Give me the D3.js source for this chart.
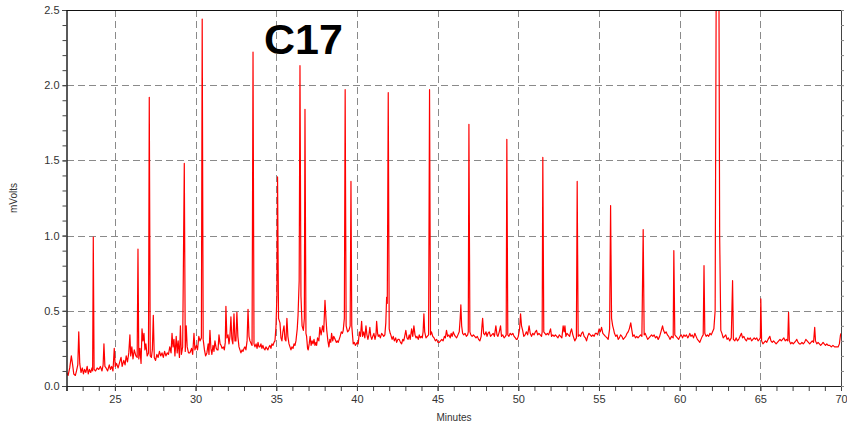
<!DOCTYPE html>
<html>
<head>
<meta charset="utf-8">
<script src="https://cdn.jsdelivr.net/npm/d3@7"></script>
<style>
  html, body { margin: 0; padding: 0; background: #fff; }
  svg { display: block; font-family: "Liberation Sans", Arial, sans-serif; }
</style>
</head>
<body>
<svg id="chart" width="847" height="425"></svg>
<script>
// ---- data ----
const xTicks = [25, 30, 35, 40, 45, 50, 55, 60, 65, 70];
const yTicks = [0, 0.5, 1.0, 1.5, 2.0, 2.5];
const xLabel = 'Minutes';
const yLabel = 'mVolts';
const peakLabel = 'C17';

// [minutes, mVolts]
const trace = [
  [22.0,0.09],[22.1,0.07],[22.2,0.12],[22.3,0.20],[22.38,0.14],[22.45,0.08],[22.55,0.07],[22.62,0.10],
  [22.7,0.14],[22.76,0.36],[22.82,0.15],[22.9,0.09],[22.98,0.12],[23.05,0.08],[23.12,0.11],[23.2,0.09],
  [23.28,0.13],[23.35,0.08],[23.42,0.11],[23.5,0.09],[23.58,0.12],[23.62,0.10],[23.66,0.99],[23.71,0.11],
  [23.8,0.10],[23.9,0.12],[24.0,0.11],[24.1,0.13],[24.2,0.10],[24.27,0.14],[24.32,0.28],[24.38,0.13],
  [24.45,0.12],[24.55,0.10],[24.65,0.14],[24.72,0.11],[24.8,0.13],[24.88,0.10],[24.96,0.25],[25.02,0.13],
  [25.1,0.15],[25.2,0.12],[25.3,0.16],[25.38,0.19],[25.45,0.13],[25.55,0.17],[25.63,0.14],[25.7,0.20],
  [25.78,0.16],[25.86,0.22],[25.93,0.34],[25.98,0.20],[26.05,0.26],[26.12,0.18],[26.2,0.24],[26.3,0.20],
  [26.38,0.19],[26.43,0.91],[26.48,0.18],[26.55,0.25],[26.62,0.15],[26.68,0.38],[26.74,0.30],[26.8,0.35],
  [26.86,0.24],[26.92,0.28],[27.0,0.20],[27.08,0.22],[27.13,1.92],[27.19,0.20],[27.26,0.19],[27.32,0.24],
  [27.38,0.47],[27.44,0.19],[27.52,0.17],[27.6,0.21],[27.68,0.19],[27.76,0.23],[27.84,0.20],[27.92,0.22],
  [28.0,0.19],[28.08,0.23],[28.16,0.20],[28.24,0.22],[28.32,0.21],[28.4,0.26],[28.48,0.22],[28.54,0.35],
  [28.6,0.26],[28.66,0.31],[28.72,0.20],[28.8,0.33],[28.86,0.22],[28.92,0.30],[29.0,0.19],[29.06,0.40],
  [29.12,0.21],[29.2,0.26],[29.3,1.48],[29.36,0.23],[29.42,0.40],[29.48,0.26],[29.56,0.22],[29.65,0.22],
  [29.75,0.25],[29.82,0.21],[29.9,0.35],[29.96,0.24],[30.05,0.27],[30.12,0.24],[30.2,0.33],[30.27,0.30],
  [30.36,0.32],[30.41,2.44],[30.47,0.31],[30.55,0.24],[30.62,0.20],[30.7,0.22],[30.78,0.28],[30.83,0.21],
  [30.89,0.37],[30.95,0.25],[31.01,0.21],[31.08,0.27],[31.14,0.23],[31.2,0.30],[31.28,0.25],[31.34,0.24],
  [31.39,0.24],[31.45,0.34],[31.52,0.28],[31.58,0.27],[31.64,0.25],[31.72,0.26],[31.78,0.24],[31.84,0.29],
  [31.88,0.53],[31.94,0.32],[32.01,0.34],[32.07,0.28],[32.13,0.33],[32.19,0.46],[32.25,0.31],[32.31,0.28],
  [32.38,0.48],[32.44,0.30],[32.5,0.30],[32.56,0.49],[32.62,0.33],[32.69,0.26],[32.75,0.24],[32.81,0.22],
  [32.88,0.24],[32.94,0.23],[33.0,0.25],[33.06,0.26],[33.12,0.24],[33.19,0.30],[33.25,0.51],[33.31,0.33],
  [33.37,0.30],[33.45,0.28],[33.5,0.27],[33.56,2.22],[33.62,0.28],[33.68,0.26],[33.75,0.28],[33.81,0.25],
  [33.87,0.29],[33.93,0.26],[33.99,0.26],[34.05,0.28],[34.11,0.25],[34.17,0.27],[34.23,0.25],[34.3,0.24],
  [34.36,0.26],[34.42,0.25],[34.48,0.24],[34.55,0.26],[34.61,0.27],[34.67,0.25],[34.73,0.28],[34.8,0.27],
  [34.86,0.29],[34.92,0.30],[34.98,0.39],[35.04,0.60],[35.08,1.39],[35.14,0.45],[35.23,0.42],[35.29,0.32],
  [35.35,0.30],[35.41,0.36],[35.48,0.40],[35.54,0.31],[35.6,0.30],[35.66,0.45],[35.72,0.33],[35.79,0.28],
  [35.85,0.26],[35.91,0.24],[35.97,0.26],[36.04,0.25],[36.1,0.28],[36.16,0.27],[36.22,0.30],[36.3,0.38],
  [36.35,0.47],[36.42,0.70],[36.47,2.13],[36.53,0.60],[36.6,0.40],[36.68,0.37],[36.74,0.45],[36.78,1.84],
  [36.84,0.35],[36.88,0.33],[36.94,0.25],[36.98,0.24],[37.04,0.28],[37.1,0.33],[37.16,0.27],[37.22,0.30],
  [37.28,0.28],[37.34,0.31],[37.4,0.27],[37.46,0.29],[37.5,0.27],[37.56,0.32],[37.64,0.30],[37.7,0.39],
  [37.78,0.34],[37.87,0.40],[37.94,0.36],[38.02,0.57],[38.08,0.45],[38.13,0.37],[38.2,0.30],[38.26,0.26],
  [38.32,0.31],[38.38,0.29],[38.43,0.35],[38.5,0.30],[38.56,0.33],[38.65,0.31],[38.72,0.29],[38.78,0.30],
  [38.84,0.29],[38.9,0.31],[38.96,0.33],[39.03,0.36],[39.1,0.35],[39.15,0.37],[39.22,0.45],[39.27,1.97],
  [39.33,0.40],[39.42,0.36],[39.5,0.37],[39.58,0.40],[39.63,1.36],[39.68,0.40],[39.77,0.28],[39.84,0.29],
  [39.9,0.27],[39.96,0.28],[40.02,0.29],[40.08,0.28],[40.15,0.36],[40.22,0.33],[40.29,0.43],[40.35,0.33],
  [40.42,0.36],[40.49,0.32],[40.56,0.40],[40.62,0.34],[40.68,0.31],[40.74,0.34],[40.8,0.39],[40.86,0.33],
  [40.92,0.31],[40.98,0.33],[41.05,0.35],[41.12,0.31],[41.18,0.34],[41.22,0.43],[41.28,0.35],[41.32,0.33],
  [41.38,0.34],[41.45,0.32],[41.53,0.35],[41.6,0.34],[41.66,0.33],[41.73,0.34],[41.79,0.42],[41.84,0.59],
  [41.88,0.55],[41.94,1.95],[42.0,0.38],[42.06,0.35],[42.1,0.34],[42.18,0.31],[42.25,0.33],[42.32,0.30],
  [42.4,0.32],[42.46,0.29],[42.54,0.31],[42.62,0.31],[42.7,0.29],[42.77,0.28],[42.84,0.31],[42.9,0.30],
  [42.96,0.33],[43.03,0.37],[43.1,0.32],[43.17,0.31],[43.24,0.34],[43.3,0.31],[43.39,0.38],[43.46,0.33],
  [43.53,0.40],[43.6,0.34],[43.66,0.32],[43.72,0.33],[43.8,0.31],[43.86,0.34],[43.92,0.32],[43.98,0.33],
  [44.05,0.32],[44.1,0.36],[44.15,0.48],[44.2,0.36],[44.28,0.32],[44.36,0.33],[44.44,0.34],[44.5,1.97],
  [44.56,0.34],[44.62,0.36],[44.7,0.33],[44.78,0.32],[44.86,0.30],[44.94,0.31],[45.02,0.29],[45.1,0.29],
  [45.18,0.30],[45.26,0.31],[45.34,0.30],[45.42,0.33],[45.48,0.32],[45.55,0.37],[45.62,0.33],[45.7,0.34],
  [45.78,0.32],[45.84,0.35],[45.9,0.33],[45.97,0.36],[46.04,0.34],[46.1,0.33],[46.18,0.32],[46.26,0.34],
  [46.34,0.36],[46.4,0.45],[46.44,0.54],[46.49,0.40],[46.55,0.35],[46.62,0.34],[46.7,0.35],[46.78,0.33],
  [46.86,0.34],[46.9,0.36],[46.94,1.74],[47.0,0.36],[47.06,0.34],[47.14,0.33],[47.22,0.34],[47.3,0.33],
  [47.38,0.32],[47.46,0.33],[47.54,0.31],[47.62,0.30],[47.7,0.33],[47.75,0.40],[47.79,0.45],[47.85,0.35],
  [47.92,0.34],[48.0,0.36],[48.06,0.33],[48.12,0.35],[48.2,0.36],[48.28,0.33],[48.36,0.34],[48.44,0.35],
  [48.52,0.33],[48.61,0.40],[48.68,0.34],[48.74,0.33],[48.82,0.36],[48.9,0.40],[48.96,0.33],[49.04,0.34],
  [49.12,0.32],[49.2,0.33],[49.25,0.34],[49.29,1.64],[49.35,0.34],[49.42,0.33],[49.5,0.35],[49.58,0.34],
  [49.66,0.35],[49.74,0.33],[49.82,0.32],[49.88,0.31],[49.93,0.31],[50.0,0.33],[50.08,0.38],[50.14,0.48],
  [50.2,0.40],[50.27,0.37],[50.34,0.33],[50.42,0.34],[50.5,0.36],[50.58,0.34],[50.67,0.40],[50.74,0.35],
  [50.82,0.33],[50.9,0.35],[50.98,0.34],[51.06,0.36],[51.13,0.37],[51.2,0.34],[51.28,0.35],[51.36,0.34],
  [51.44,0.33],[51.48,0.36],[51.52,1.52],[51.58,0.36],[51.65,0.35],[51.72,0.34],[51.8,0.35],[51.88,0.34],
  [51.94,0.36],[52.0,0.38],[52.06,0.33],[52.14,0.34],[52.22,0.33],[52.3,0.34],[52.38,0.33],[52.46,0.32],
  [52.54,0.34],[52.62,0.33],[52.7,0.32],[52.78,0.40],[52.84,0.36],[52.89,0.40],[52.95,0.33],[53.02,0.35],
  [53.1,0.34],[53.18,0.33],[53.24,0.36],[53.3,0.38],[53.38,0.34],[53.44,0.32],[53.5,0.30],[53.6,0.32],
  [53.65,1.36],[53.71,0.33],[53.78,0.34],[53.86,0.33],[53.92,0.35],[54.0,0.36],[54.08,0.33],[54.16,0.32],
  [54.23,0.30],[54.3,0.33],[54.38,0.35],[54.46,0.34],[54.54,0.33],[54.62,0.34],[54.7,0.33],[54.78,0.35],
  [54.85,0.35],[54.92,0.34],[55.01,0.38],[55.08,0.36],[55.16,0.39],[55.24,0.35],[55.32,0.34],[55.4,0.33],
  [55.5,0.32],[55.57,0.31],[55.66,0.38],[55.72,1.20],[55.78,0.45],[55.85,0.40],[55.9,0.38],[55.96,0.35],
  [56.04,0.33],[56.12,0.34],[56.19,0.31],[56.26,0.32],[56.34,0.34],[56.42,0.33],[56.5,0.31],[56.58,0.32],
  [56.66,0.33],[56.74,0.35],[56.81,0.36],[56.88,0.38],[56.97,0.42],[57.04,0.37],[57.1,0.33],[57.18,0.34],
  [57.26,0.32],[57.34,0.33],[57.42,0.32],[57.5,0.33],[57.58,0.34],[57.66,0.33],[57.74,1.04],[57.8,0.34],
  [57.86,0.35],[57.94,0.33],[58.02,0.31],[58.1,0.32],[58.18,0.33],[58.26,0.34],[58.34,0.33],[58.42,0.34],
  [58.5,0.32],[58.58,0.33],[58.67,0.31],[58.76,0.33],[58.84,0.36],[58.94,0.40],[59.0,0.37],[59.08,0.35],
  [59.16,0.36],[59.24,0.34],[59.32,0.33],[59.4,0.31],[59.5,0.33],[59.6,0.32],[59.64,0.90],[59.7,0.34],
  [59.78,0.33],[59.86,0.32],[59.94,0.31],[60.02,0.33],[60.1,0.34],[60.18,0.32],[60.26,0.34],[60.34,0.33],
  [60.42,0.34],[60.5,0.32],[60.56,0.33],[60.63,0.35],[60.7,0.33],[60.78,0.34],[60.86,0.32],[60.94,0.35],
  [61.02,0.33],[61.1,0.31],[61.18,0.30],[61.25,0.29],[61.32,0.31],[61.4,0.33],[61.46,0.34],[61.51,0.80],
  [61.56,0.35],[61.64,0.33],[61.72,0.34],[61.8,0.33],[61.88,0.35],[61.96,0.34],[62.04,0.36],[62.12,0.38],
  [62.2,0.50],[62.27,2.80],[62.33,3.20],[62.42,3.20],[62.48,1.00],[62.55,0.37],[62.62,0.35],[62.7,0.32],
  [62.78,0.33],[62.86,0.34],[62.94,0.31],[63.02,0.32],[63.1,0.30],[63.2,0.32],[63.28,0.70],[63.33,0.31],
  [63.42,0.30],[63.5,0.32],[63.58,0.30],[63.66,0.31],[63.74,0.33],[63.83,0.35],[63.9,0.32],[63.98,0.33],
  [64.06,0.31],[64.14,0.30],[64.22,0.32],[64.3,0.31],[64.38,0.32],[64.46,0.30],[64.54,0.31],[64.62,0.32],
  [64.7,0.31],[64.78,0.32],[64.86,0.30],[64.94,0.31],[65.0,0.32],[65.03,0.58],[65.08,0.30],[65.16,0.28],
  [65.24,0.29],[65.32,0.30],[65.4,0.29],[65.48,0.31],[65.59,0.33],[65.66,0.30],[65.74,0.29],[65.82,0.30],
  [65.9,0.29],[65.98,0.28],[66.06,0.29],[66.14,0.30],[66.22,0.31],[66.3,0.30],[66.38,0.31],[66.46,0.32],
  [66.54,0.30],[66.62,0.31],[66.7,0.30],[66.75,0.49],[66.8,0.30],[66.88,0.28],[66.96,0.29],[67.04,0.28],
  [67.12,0.29],[67.2,0.30],[67.26,0.31],[67.34,0.29],[67.42,0.28],[67.5,0.28],[67.58,0.29],[67.66,0.28],
  [67.74,0.29],[67.82,0.31],[67.9,0.30],[67.98,0.29],[68.06,0.28],[68.14,0.29],[68.22,0.30],[68.3,0.29],
  [68.37,0.39],[68.42,0.30],[68.5,0.28],[68.58,0.29],[68.66,0.28],[68.74,0.27],[68.82,0.28],[68.89,0.29],
  [68.96,0.28],[69.04,0.27],[69.12,0.28],[69.2,0.27],[69.3,0.27],[69.4,0.26],[69.5,0.27],[69.6,0.26],
  [69.7,0.26],[69.82,0.26],[69.9,0.28],[69.97,0.34],[70.0,0.35]
];

// ---- layout ----
const svg = d3.select('#chart');
const L = 66.5, R = 841, T = 10, B = 386;

const x = d3.scaleLinear().domain([22, 70]).range([L, R]);
const y = d3.scaleLinear().domain([0, 2.5]).range([B, T]);

const minorX = d3.range(22, 71, 1);
const minorY = d3.range(0, 2.51, 0.1);

// grid (dashed)
const grid = svg.append('g').attr('stroke', '#8a8a8a').attr('stroke-width', 1)
  .attr('stroke-dasharray', '7,4').attr('shape-rendering', 'crispEdges');
grid.selectAll('line.v')
  .data(xTicks.filter(d => d < 70))
  .join('line').attr('class', 'v')
    .attr('x1', d => Math.round(x(d)) + 0.5).attr('x2', d => Math.round(x(d)) + 0.5)
    .attr('y1', T).attr('y2', B);
grid.selectAll('line.h')
  .data(yTicks.filter(d => d > 0 && d < 2.5))
  .join('line').attr('class', 'h')
    .attr('x1', L).attr('x2', R)
    .attr('y1', d => Math.round(y(d)) + 0.5).attr('y2', d => Math.round(y(d)) + 0.5);

// trace
svg.append('clipPath').attr('id', 'plotClip')
  .append('rect').attr('x', L).attr('y', T).attr('width', R - L).attr('height', B - T);

const line = d3.line().x(d => x(d[0])).y(d => y(d[1]));
svg.append('path')
  .datum(trace)
  .attr('clip-path', 'url(#plotClip)')
  .attr('fill', 'none')
  .attr('stroke', '#ff0000')
  .attr('stroke-width', 1.2)
  .attr('stroke-linejoin', 'round')
  .attr('d', line);

// axes
function styleAxis(g) {
  g.select('.domain').attr('stroke', '#222');
  g.selectAll('.tick line').attr('stroke', '#444');
  g.selectAll('.tick text').attr('fill', '#333').style('font-size', '11px')
    .style('font-family', '"Liberation Sans", Arial, sans-serif');
}

svg.append('g')
  .attr('transform', `translate(0,${B})`)
  .call(d3.axisBottom(x).tickValues(minorX).tickSize(5).tickFormat(''))
  .call(styleAxis);
svg.append('g')
  .attr('transform', `translate(0,${B})`)
  .call(d3.axisBottom(x).tickValues(xTicks).tickSize(5).tickPadding(4).tickFormat(d3.format('d')))
  .call(styleAxis);

svg.append('g')
  .attr('transform', `translate(${L},0)`)
  .call(d3.axisLeft(y).tickValues(minorY).tickSize(4).tickFormat(''))
  .call(styleAxis);
svg.append('g')
  .attr('transform', `translate(${L},0)`)
  .call(d3.axisLeft(y).tickValues(yTicks).tickSize(4).tickPadding(3).tickFormat(d3.format('.1f')))
  .call(styleAxis);

svg.append('g')
  .attr('transform', `translate(${R},0)`)
  .call(d3.axisRight(y).tickValues(minorY).tickSize(3).tickFormat(''))
  .call(g => { g.select('.domain').attr('stroke', '#444'); g.selectAll('.tick line').attr('stroke', '#888'); });

// top border
svg.append('line')
  .attr('x1', L).attr('x2', R).attr('y1', T + 0.5).attr('y2', T + 0.5)
  .attr('stroke', '#111').attr('stroke-width', 1.2);

// labels
svg.append('text')
  .attr('x', 454).attr('y', 421)
  .attr('text-anchor', 'middle')
  .attr('fill', '#333')
  .style('font-size', '10px')
  .text(xLabel);

svg.append('text')
  .attr('transform', 'translate(17,198) rotate(-90)')
  .attr('text-anchor', 'middle')
  .attr('fill', '#333')
  .style('font-size', '10px')
  .text(yLabel);

svg.append('text')
  .attr('x', 264).attr('y', 53.5)
  .attr('fill', '#000')
  .style('font-size', '43px')
  .style('font-weight', 'bold')
  .text(peakLabel);
</script>
</body>
</html>
